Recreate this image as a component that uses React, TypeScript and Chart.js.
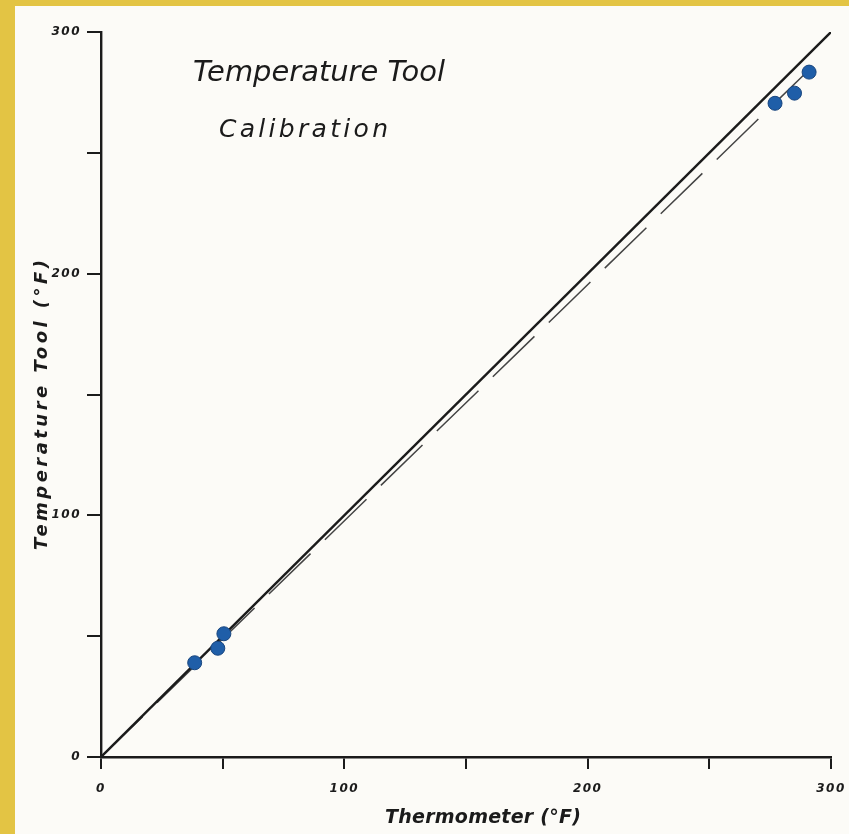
import React, { useEffect, useRef } from 'react';
import { Chart, registerables } from 'chart.js';

Chart.register(...registerables);

// Data
const thermometerF = [38.5, 48, 50.5, 277, 285, 291];
const toolF = [39, 45, 51, 270.5, 274.7, 283.4];
const identityX = [0, 300];
const identityY = [0, 300];
const fitX = [0, 289];
const fitY = [0, 282.4];
const xTickLabels = [0, 100, 200, 300];
const yTickLabels = [0, 100, 200, 300];

const titleLine1 = 'Temperature Tool';
const titleLine2 = 'Calibration';
const xTitle = 'Thermometer (°F)';
const yTitle = 'Temperature Tool (°F)';

const INK = '#1b1b1b';
const YELLOW = '#e3c444';
const PAPER = '#fcfbf7';

// Draws text starting at (x, y) so that it spans `width` pixels: condensed if too wide, letter-spaced if too narrow.
function drawFitted(ctx: CanvasRenderingContext2D, text: string, x: number, y: number, width: number, font: string) {
  ctx.save();
  ctx.font = font;
  (ctx as any).letterSpacing = '0px';
  ctx.textAlign = 'left';
  ctx.textBaseline = 'alphabetic';
  const w = ctx.measureText(text).width;
  if (w > width) {
    ctx.translate(x, y);
    ctx.scale(width / w, 1);
    ctx.fillText(text, 0, 0);
  } else {
    const s = (width - w) / Math.max(1, text.length - 1);
    (ctx as any).letterSpacing = s + 'px';
    ctx.fillText(text, x, y);
  }
  ctx.restore();
}

const paperPlugin = {
  id: 'paper',
  beforeDraw(chart: any) {
    const ctx = chart.ctx as CanvasRenderingContext2D;
    ctx.fillStyle = YELLOW;
    ctx.fillRect(0, 0, chart.width, chart.height);
    ctx.fillStyle = PAPER;
    ctx.fillRect(15, 6, chart.width - 15, chart.height - 6);
    (ctx as any).letterSpacing = '1.5px';
  },
  afterDraw(chart: any) {
    const ctx = chart.ctx as CanvasRenderingContext2D;
    (ctx as any).letterSpacing = '0px';
    ctx.save();
    ctx.fillStyle = INK;
    drawFitted(ctx, titleLine1, 193, 81, 252, 'italic 29px "DejaVu Sans"');
    drawFitted(ctx, titleLine2, 219, 137, 169, 'italic 25px "DejaVu Sans"');
    drawFitted(ctx, xTitle, 385, 823, 196, 'bold italic 19px "DejaVu Sans"');
    ctx.translate(47, 550);
    ctx.rotate(-Math.PI / 2);
    drawFitted(ctx, yTitle, 0, 0, 290, 'bold italic 18px "DejaVu Sans"');
    ctx.restore();
  },
};

export default function App() {
  const ref = useRef<HTMLCanvasElement | null>(null);

  useEffect(() => {
    if (!ref.current) return;
    const tickFont = { family: '"DejaVu Sans"', size: 12, style: 'italic' as const, weight: 'bold' as const };
    const chart = new Chart(ref.current, {
      type: 'scatter',
      data: {
        datasets: [
          {
            label: 'Identity',
            type: 'line',
            data: identityX.map((x, i) => ({ x, y: identityY[i] })),
            borderColor: INK,
            borderWidth: 2.4,
            pointRadius: 0,
            fill: false,
            order: 2,
          },
          {
            label: 'Fit',
            type: 'line',
            data: fitX.map((x, i) => ({ x, y: fitY[i] })),
            borderColor: '#444444',
            borderWidth: 1.5,
            borderDash: [58, 20],
            pointRadius: 0,
            fill: false,
            order: 3,
          },
          {
            label: 'Readings',
            data: thermometerF.map((x, i) => ({ x, y: toolF[i] })),
            backgroundColor: '#1f5ea8',
            borderColor: '#19467f',
            borderWidth: 1,
            pointRadius: 7,
            order: 1,
          },
        ],
      },
      options: {
        responsive: false,
        animation: false,
        devicePixelRatio: 1,
        layout: { padding: { top: 32, right: 18, left: 0, bottom: 0 } },
        plugins: { legend: { display: false }, tooltip: { enabled: false } },
        scales: {
          x: {
            type: 'linear',
            min: 0,
            max: 300,
            afterFit: (s: any) => { s.height = 77; s.paddingLeft = 0; s.paddingRight = 0; },
            border: { display: true, color: INK, width: 2.4 },
            grid: { drawOnChartArea: false, drawTicks: true, tickLength: 12, color: INK, lineWidth: 2 },
            ticks: {
              stepSize: 50,
              autoSkip: false,
              maxRotation: 0,
              padding: 13,
              color: INK,
              font: tickFont,
              callback: (v: any) => (xTickLabels.includes(Number(v)) ? String(v) : ''),
            },
          },
          y: {
            type: 'linear',
            min: 0,
            max: 300,
            afterFit: (s: any) => { s.width = 101; s.paddingTop = 0; s.paddingBottom = 0; },
            border: { display: true, color: INK, width: 2.4 },
            grid: { drawOnChartArea: false, drawTicks: true, tickLength: 14, color: INK, lineWidth: 2 },
            ticks: {
              stepSize: 50,
              autoSkip: false,
              padding: 6,
              color: INK,
              font: tickFont,
              callback: (v: any) => (yTickLabels.includes(Number(v)) ? String(v) : ''),
            },
          },
        },
      },
      plugins: [paperPlugin],
    });
    return () => chart.destroy();
  }, []);

  return (
    <div style={{ position: 'absolute', left: 0, top: 0, width: 849, height: 834 }}>
      <canvas ref={ref} width={849} height={834} style={{ display: 'block', width: 849, height: 834 }} />
    </div>
  );
}
